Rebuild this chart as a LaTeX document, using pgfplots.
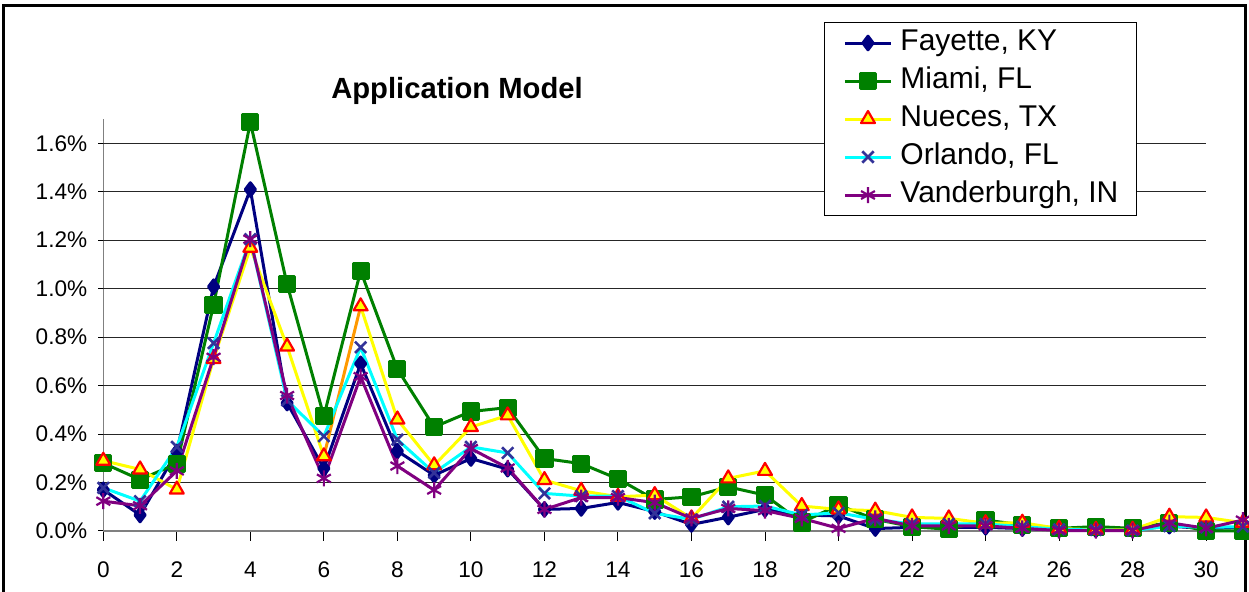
\documentclass[border=0pt]{standalone}
\usepackage{pgfplots}
\pgfplotsset{compat=1.18}
\usepackage{pgfplotstable}
\usepackage{fontspec}
\setmainfont{Liberation Sans}

\definecolor{fay}{HTML}{000080}
\definecolor{mia}{HTML}{008000}
\definecolor{nueline}{HTML}{FFFF00}
\definecolor{nueedge}{HTML}{FF0000}
\definecolor{nueseg}{HTML}{FF9900}
\definecolor{orlline}{HTML}{00FFFF}
\definecolor{orlmark}{HTML}{333399}
\definecolor{van}{HTML}{800080}

% share of applications (percent) per bin
\pgfplotstableread{
x   fay    mia    nue    orl    van
0   0.170  0.280  0.290  0.178  0.123
1   0.066  0.212  0.254  0.123  0.104
2   0.326  0.278  0.171  0.347  0.248
3   1.008  0.933  0.710  0.775  0.717
4   1.409  1.686  1.169  1.204  1.204
5   0.528  1.018  0.761  0.539  0.559
6   0.258  0.474  0.308  0.391  0.217
7   0.690  1.073  0.927  0.758  0.637
8   0.330  0.668  0.460  0.377  0.268
9   0.230  0.429  0.271  0.240  0.169
10  0.299  0.493  0.429  0.347  0.340
11  0.255  0.509  0.477  0.322  0.260
12  0.089  0.299  0.210  0.155  0.089
13  0.093  0.278  0.166  0.144  0.138
14  0.118  0.215  0.141  0.144  0.138
15  0.080  0.130  0.148  0.073  0.117
16  0.027  0.141  0.052  0.048  0.052
17  0.057  0.182  0.217  0.100  0.093
18  0.089  0.148  0.248  0.103  0.084
19  0.066  0.035  0.103  0.066  0.052
20  0.062  0.107  0.089  0.075  0.011
21  0.010  0.048  0.084  0.048  0.052
22  0.015  0.018  0.056  0.029  0.021
23  0.015  0.007  0.052  0.029  0.021
24  0.015  0.045  0.032  0.029  0.021
25  0.010  0.025  0.034  0.018  0.011
26  0.005  0.011  0.010  0.007  0.002
27  0.005  0.018  0.005  0.004  0.002
28  0.005  0.011  0.005  0.002  0.002
29  0.020  0.034  0.059  0.020  0.034
30  0.010  0.000  0.056  0.015  0.011
31  0.015  0.000  0.034  0.018  0.045
}\data

\begin{document}
\begin{tikzpicture}
\useasboundingbox (0,0) rectangle (624.5pt,296pt);
% outer chart frame
\draw[line width=1.5pt] (1.75pt,-20pt) rectangle (622.75pt,293pt);
\node[font=\bfseries\fontsize{14.6}{17}\selectfont, anchor=base] at (228.5pt,246.5pt) {Application Model};
\begin{axis}[
  at={(51.65pt,30.5pt)}, anchor=south west,
  scale only axis, width=569.8pt, height=206pt,
  xmin=0, xmax=31, ymin=0, ymax=1.7,
  clip=false,
  axis x line=bottom, axis y line=left,
  axis line style={-, draw=gray, line width=0.6pt},
  xtick={0,2,...,30}, ytick={0,0.2,...,1.6},
  xtick align=outside, ytick align=center,
  major tick length=5pt,
  tick style={black, line width=0.5pt},
  tick label style={font=\fontsize{11.3}{13}\selectfont},
  /pgf/number format/assume math mode=true,
  yticklabel={\pgfmathprintnumber[fixed,fixed zerofill,precision=1]{\tick}\%},
  xticklabel style={yshift=-7pt},
  yticklabel style={xshift=-2pt},
  legend cell align=left,
  legend image code/.code={
    \path (0pt,0pt);
    \draw[mark repeat=2, mark phase=2] plot coordinates {(2.5pt,0pt) (14pt,0pt) (25.5pt,0pt)};
  },
  legend style={at={(0.6324,1.2354)}, anchor=north west, draw=black, line width=0.5pt,
    fill=white, font=\fontsize{15}{17}\selectfont,
    inner xsep=7pt, inner ysep=1pt, row sep=0.5pt, column sep=2pt,
    nodes={inner sep=2pt, text height=11pt, text depth=3.5pt}},
  every axis plot/.append style={line width=1.5pt, line join=round},
]
% horizontal gridlines
\pgfplotsinvokeforeach{0.2,0.4,0.6,0.8,1.0,1.2,1.4,1.6}{
  \draw[black!85, line width=0.5pt] (axis cs:0,#1) -- (axis cs:30,#1);
}

\addplot[fay, mark=diamond*, mark size=3.4pt, mark options={fill=fay}]
  table[x=x, y=fay]{\data};
\addlegendentry{Fayette, KY}

\addplot[mia, mark=square*, mark size=3.8pt, mark options={fill=mia}]
  table[x=x, y=mia]{\data};
\addlegendentry{Miami, FL}

\addlegendimage{nueline, mark=triangle*, mark size=4pt,
  mark options={fill=nueline, draw=nueedge, line width=1.1pt}}
\addlegendentry{Nueces, TX}
\addplot[nueline, forget plot, restrict x to domain=0:6] table[x=x, y=nue]{\data};
\addplot[nueseg, forget plot, restrict x to domain=6:7] table[x=x, y=nue]{\data};
\addplot[nueline, forget plot, restrict x to domain=7:31] table[x=x, y=nue]{\data};
\addplot[only marks, forget plot, mark=triangle*, mark size=4pt,
  mark options={fill=nueline, draw=nueedge, line width=1.1pt}]
  table[x=x, y=nue]{\data};

\addplot[orlline, mark=x, mark size=4pt, mark options={draw=orlmark, line width=1.3pt}]
  table[x=x, y=orl]{\data};
\addlegendentry{Orlando, FL}

\addplot[van, mark=asterisk, mark size=4pt, mark options={line width=1.1pt}]
  table[x=x, y=van]{\data};
\addlegendentry{Vanderburgh, IN}
\end{axis}
\end{tikzpicture}
\end{document}
